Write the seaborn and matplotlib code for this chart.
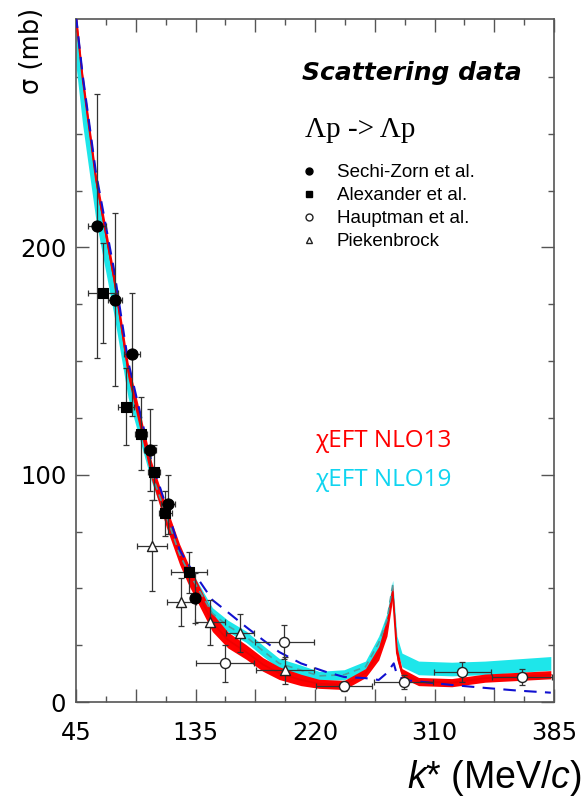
import numpy as np
import pandas as pd
import matplotlib
matplotlib.use('Agg')
import matplotlib.pyplot as plt
from matplotlib.lines import Line2D
import seaborn as sns

# x axis: k* labels sit at equal spacing (axis is uniform in the original variable)
k_labels = [45, 135, 220, 310, 385]
u_pos = [0, 2, 4, 6, 8]

# model curves (k* in MeV/c, sigma in mb)
k_curve = [45, 50, 60, 73.7, 84.2, 101.8, 113, 123, 129, 147, 158, 171, 183, 194.5,
           210, 223, 242, 258, 268, 274.2, 278.5, 281.7, 285.5, 298, 320.8, 341.7, 383]
nlo13 = [301, 274, 230, 186, 146, 102, 81.5, 65, 57, 35, 27.3, 22, 16.5, 12.7,
         9.7, 8.0, 7.5, 12.7, 21.5, 33, 48.5, 21.5, 12.7, 9, 8.5, 10.5, 12]
nlo13_hw = [3, 3, 3, 3, 3.5, 4, 4.5, 4.5, 4.5, 4, 3.5, 3.2, 3, 2.8,
            2.5, 2, 2, 2, 3, 4, 3, 3, 2, 1.8, 1.8, 1.8, 1.8]
nlo19 = [290, 264, 221, 178, 140, 101, 82, 65, 58, 39, 33.5, 28.7, 22.5, 17,
         14, 11.5, 12, 15.5, 26, 36, 51.5, 26, 18.5, 15, 14.5, 15, 17]
nlo19_hw = [10, 10, 9, 8, 6, 4, 3, 2.8, 2.5, 2.5, 2.5, 2.5, 2.4, 2.2,
            2.2, 2, 2.2, 2.5, 3, 3, 2, 3, 3, 3, 3, 3, 3]

k_blue = [45, 50, 60, 73.7, 84.2, 101.8, 113, 123, 129, 147, 158, 171, 183, 194.5,
          210, 228, 242, 258, 268, 274.2, 279.3, 281.7, 287, 320.8, 341.7, 362.5, 383]
blue = [302, 276, 233, 190, 150, 106, 86, 67, 61, 44.9, 39.5, 33, 27.3, 22,
        17, 13.3, 11, 10.5, 9.7, 12.8, 17, 12, 9.7, 7.5, 6.2, 5, 4.1]

# data
sz_k = [60.5, 74.3, 87.4, 100.9, 114.2, 134.8]
sz_s = [209.5, 177, 153, 111, 87, 45.7]
sz_dk = [6.8, 5.3, 6, 4.5, 5.3, 3]
sz_ds = [58, 38, 27, 18, 13, 11]

al_k = [65, 83, 94.3, 103.5, 112.3, 130]
al_s = [180, 130, 118, 101, 83, 57]
al_dk = [11.3, 6, 4.5, 4.5, 5, 13.5]
al_ds = [22, 17, 16, 12, 10, 9]

ha_k = [156, 198.1, 241.7, 286.8, 327.5, 365]
ha_s = [17, 26.5, 7, 8.8, 13.3, 11]
ha_dk = [20.5, 21, 21, 22, 18, 19]
ha_ds = [8, 7.5, 2, 3, 4.4, 3.6]

pi_k = [102.2, 124.3, 145.4, 166.7, 198.8]
pi_s = [68.8, 44, 35, 30.3, 14]
pi_dk = [11, 11, 10.6, 10, 20.5]
pi_ds = [20, 10.5, 10, 8.5, 6]

sns.set_theme(style='ticks', rc={'text.color': 'black', 'axes.labelcolor': 'black',
                                 'xtick.color': '#555555', 'ytick.color': '#555555',
                                 'xtick.labelcolor': 'black', 'ytick.labelcolor': 'black'})
plt.rcParams['font.family'] = ['DejaVu Sans']
plt.rcParams['mathtext.fontset'] = 'custom'
plt.rcParams['mathtext.it'] = 'Liberation Sans:italic'
plt.rcParams['mathtext.rm'] = 'Liberation Sans'

fig = plt.figure(figsize=(5.86, 7.97), dpi=100)
ax = fig.add_axes([76 / 586, 1 - 702 / 797, 478 / 586, 683 / 797])


def fwd(k):
    return np.interp(k, k_labels, u_pos)


def inv(u):
    return np.interp(u, u_pos, k_labels)


ax.set_xscale('function', functions=(fwd, inv))

kc = np.array(k_curve)
ax.fill_between(kc, np.array(nlo19) - np.array(nlo19_hw), np.array(nlo19) + np.array(nlo19_hw),
                color='#1ee6ea', lw=0, zorder=2)
ax.fill_between(kc, np.array(nlo13) - np.array(nlo13_hw), np.array(nlo13) + np.array(nlo13_hw),
                color='#ff0000', lw=0, zorder=3)
sns.lineplot(x=k_curve, y=nlo13, ax=ax, color='#ee0000', lw=1.3, zorder=4, sort=False)
mask = (kc > 95) & (kc < 280)
sns.lineplot(x=kc[mask], y=np.array(nlo19)[mask], ax=ax, color='#4a9fa0', lw=1.2,
             ls=(0, (4, 3)), zorder=5, sort=False)
sns.lineplot(x=k_blue, y=blue, ax=ax, color='#1010d0', lw=1.5, ls=(0, (6, 4)),
             zorder=6, sort=False)

ebkw = dict(fmt='none', ecolor='#333333', elinewidth=0.9, capsize=2.5, capthick=0.9, zorder=7)
ax.errorbar(sz_k, sz_s, xerr=sz_dk, yerr=sz_ds, **ebkw)
ax.errorbar(al_k, al_s, xerr=al_dk, yerr=al_ds, **ebkw)
ax.errorbar(ha_k, ha_s, xerr=ha_dk, yerr=ha_ds, **ebkw)
ax.errorbar(pi_k, pi_s, xerr=pi_dk, yerr=pi_ds, **ebkw)

sns.scatterplot(x=sz_k, y=sz_s, ax=ax, marker='o', s=64, color='black', edgecolor='black',
                linewidth=0.8, zorder=8)
sns.scatterplot(x=al_k, y=al_s, ax=ax, marker='s', s=44, color='black', edgecolor='black',
                linewidth=0.8, zorder=8)
sns.scatterplot(x=ha_k, y=ha_s, ax=ax, marker='o', s=52, color='white', edgecolor='#222222',
                linewidth=1.0, zorder=8)
sns.scatterplot(x=pi_k, y=pi_s, ax=ax, marker='^', s=52, color='white', edgecolor='#222222',
                linewidth=1.0, zorder=8)

ax.set_xlim(45, 385)
ax.set_ylim(0, 300.5)
ax.set_xticks(inv(np.arange(0, 9, 1)))
ax.set_xticklabels(['45', '', '135', '', '220', '', '310', '', '385'])
ax.set_xticks(inv(np.arange(0.5, 8, 1)), minor=True)
ax.set_yticks([0, 100, 200])
ax.set_yticks(np.arange(25, 300, 25), minor=True)
ax.tick_params(which='both', direction='in', top=True, right=True, width=1.0)
ax.tick_params(which='major', length=9.5, labelsize=17.5)
ax.tick_params(which='minor', length=4.3)
ax.tick_params(axis='x', which='major', pad=14)
ax.tick_params(axis='y', which='major', pad=7)
for sp in ax.spines.values():
    sp.set_color('#555555')
    sp.set_linewidth(1.2)

ax.set_ylabel('σ (mb)', fontsize=18.5, loc='top')
ax.yaxis.label.set_va('center')
ax.yaxis.set_label_coords(-0.092, 1.016)
ax.set_xlabel('$k$* (MeV/$c$)', fontsize=27, family='Liberation Sans', loc='right')
ax.xaxis.label.set_va('center')
ax.xaxis.set_label_coords((582 - 76) / 478, (702 - 778) / 683)

ax.text(0.473, 0.921, 'Scattering data', transform=ax.transAxes, fontsize=18,
        fontweight='bold', fontstyle='italic', va='center', ha='left')
ax.text(0.479, 0.8375, 'Λp -> Λp', transform=ax.transAxes, fontsize=21,
        family='Liberation Serif', va='center', ha='left')
ax.text(0.5, 0.382, 'χEFT NLO13', transform=ax.transAxes, fontsize=17.5,
        family='Open Sans', color='#ff0000', va='center', ha='left')
ax.text(0.5, 0.325, 'χEFT NLO19', transform=ax.transAxes, fontsize=17.5,
        family='Open Sans', color='#10d4f0', va='center', ha='left')

handles = [
    Line2D([], [], ls='none', marker='o', ms=5, mfc='black', mec='black'),
    Line2D([], [], ls='none', marker='s', ms=4.5, mfc='black', mec='black'),
    Line2D([], [], ls='none', marker='o', ms=5, mfc='white', mec='#222222'),
    Line2D([], [], ls='none', marker='^', ms=5, mfc='white', mec='#222222'),
]
labels = ['Sechi-Zorn et al.', 'Alexander et al.', 'Hauptman et al.', 'Piekenbrock']
ax.legend(handles, labels, loc='upper left', bbox_to_anchor=(300 / 586, 1 - 164 / 797),
          bbox_transform=fig.transFigure, frameon=False, borderpad=0, borderaxespad=0,
          handlelength=1.0, handletextpad=0.95, labelspacing=0.32,
          prop={'family': 'Liberation Sans', 'size': 13.5})

fig.savefig('out.png', dpi=100)
